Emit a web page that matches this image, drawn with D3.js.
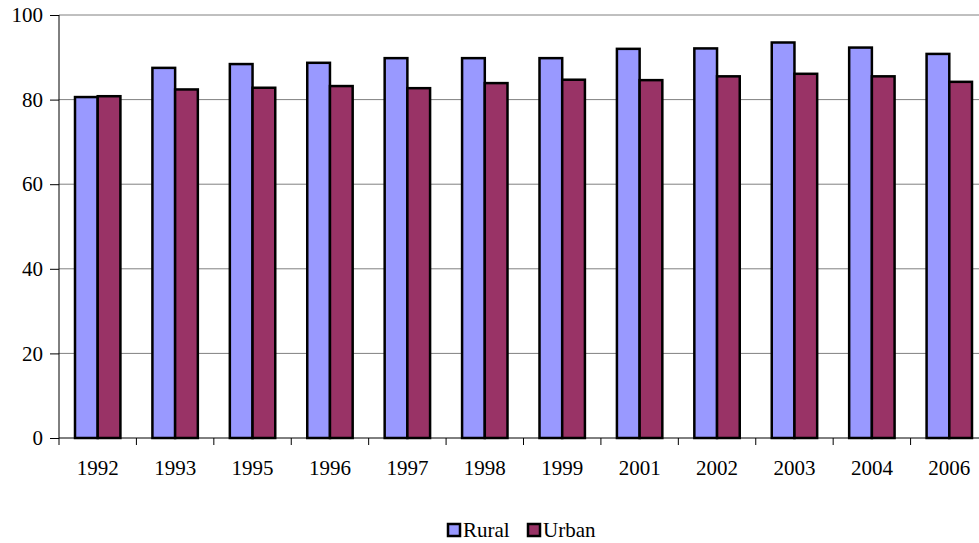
<!DOCTYPE html>
<html>
<head>
<meta charset="utf-8">
<script src="https://cdn.jsdelivr.net/npm/d3@7"></script>
<style>body { margin: 0; }</style>
</head>
<body>
<svg id="chart" width="979" height="543" font-family="Liberation Serif"></svg>
<script>
var years = ["1992", "1993", "1995", "1996", "1997", "1998", "1999", "2001", "2002", "2003", "2004", "2006"];
var rural = [80.6, 87.5, 88.4, 88.7, 89.8, 89.8, 89.8, 92.0, 92.1, 93.5, 92.3, 90.8];
var urban = [80.8, 82.4, 82.8, 83.2, 82.7, 83.9, 84.7, 84.6, 85.5, 86.1, 85.5, 84.2];
var seriesNames = ["Rural", "Urban"];
var seriesColors = ["#9999ff", "#993366"];
var yTicks = [0, 20, 40, 60, 80, 100];

var margin = {top: 15, right: 0, bottom: 105, left: 59},
    width = 929,
    height = 543 - margin.top - margin.bottom;

var fontFamily = "'Liberation Serif'";
var fontSize = "21px";

var svg = d3.select("#chart");

var g = svg.append("g")
    .attr("transform", "translate(" + margin.left + "," + margin.top + ")");

var x = d3.scaleBand().domain(years).range([0, width]);
var xs = d3.scaleBand().domain(seriesNames).range([16, x.bandwidth() - 16]);
var y = d3.scaleLinear().domain([0, 100]).range([height, 0]);

// gridlines
g.selectAll(".grid")
    .data(yTicks.filter(function(d) { return d > 0; }))
  .enter().append("line")
    .attr("x1", 0).attr("x2", width)
    .attr("y1", function(d) { return y(d); })
    .attr("y2", function(d) { return y(d); })
    .attr("stroke", "#808080")
    .attr("stroke-width", 1);

var data = years.map(function(yr, i) {
    return {year: yr, values: [
        {name: "Rural", value: rural[i], color: seriesColors[0]},
        {name: "Urban", value: urban[i], color: seriesColors[1]}
    ]};
});

var groups = g.selectAll(".grp")
    .data(data)
  .enter().append("g")
    .attr("transform", function(d) { return "translate(" + x(d.year) + ",0)"; });

groups.selectAll("rect")
    .data(function(d) { return d.values; })
  .enter().append("rect")
    .attr("x", function(d) { return xs(d.name); })
    .attr("width", xs.bandwidth())
    .attr("y", function(d) { return y(d.value); })
    .attr("height", function(d) { return height - y(d.value); })
    .attr("fill", function(d) { return d.color; })
    .attr("stroke", "#000")
    .attr("stroke-width", 2.5);

// y axis
var yAxis = g.append("g")
    .call(d3.axisLeft(y).tickValues(yTicks).tickSize(9).tickPadding(7))
    .attr("font-family", "Liberation Serif")
    .attr("font-size", 21);
yAxis.select(".domain").attr("stroke", "#000").attr("d", "M0," + height + "V0");
yAxis.selectAll("text")
    .style("font-family", fontFamily)
    .style("font-size", fontSize)
    .attr("fill", "#000");

// x axis
var xAxis = g.append("g")
    .attr("transform", "translate(0," + height + ")")
    .call(d3.axisBottom(x).tickSize(0).tickPadding(22))
    .attr("font-family", "Liberation Serif")
    .attr("font-size", 21);
xAxis.select(".domain").attr("stroke", "#000").attr("d", "M0,0H" + width);
xAxis.selectAll("text")
    .style("font-family", fontFamily)
    .style("font-size", fontSize)
    .attr("fill", "#000");
xAxis.selectAll(".sep")
    .data(years)
  .enter().append("line")
    .attr("x1", function(d) { return x(d); })
    .attr("x2", function(d) { return x(d); })
    .attr("y1", 0).attr("y2", 7)
    .attr("stroke", "#000");

// legend
var legend = svg.append("g").attr("transform", "translate(447,523)");
var items = [{name: "Rural", x: 0}, {name: "Urban", x: 80}];
items.forEach(function(it, i) {
    legend.append("rect")
        .attr("x", it.x + 1).attr("y", 1)
        .attr("width", 12).attr("height", 12)
        .attr("fill", seriesColors[i])
        .attr("stroke", "#000").attr("stroke-width", 2.5);
    legend.append("text")
        .attr("x", it.x + 16).attr("y", 14)
        .style("font-family", fontFamily)
        .style("font-size", fontSize)
        .text(it.name);
});
</script>
</body>
</html>
